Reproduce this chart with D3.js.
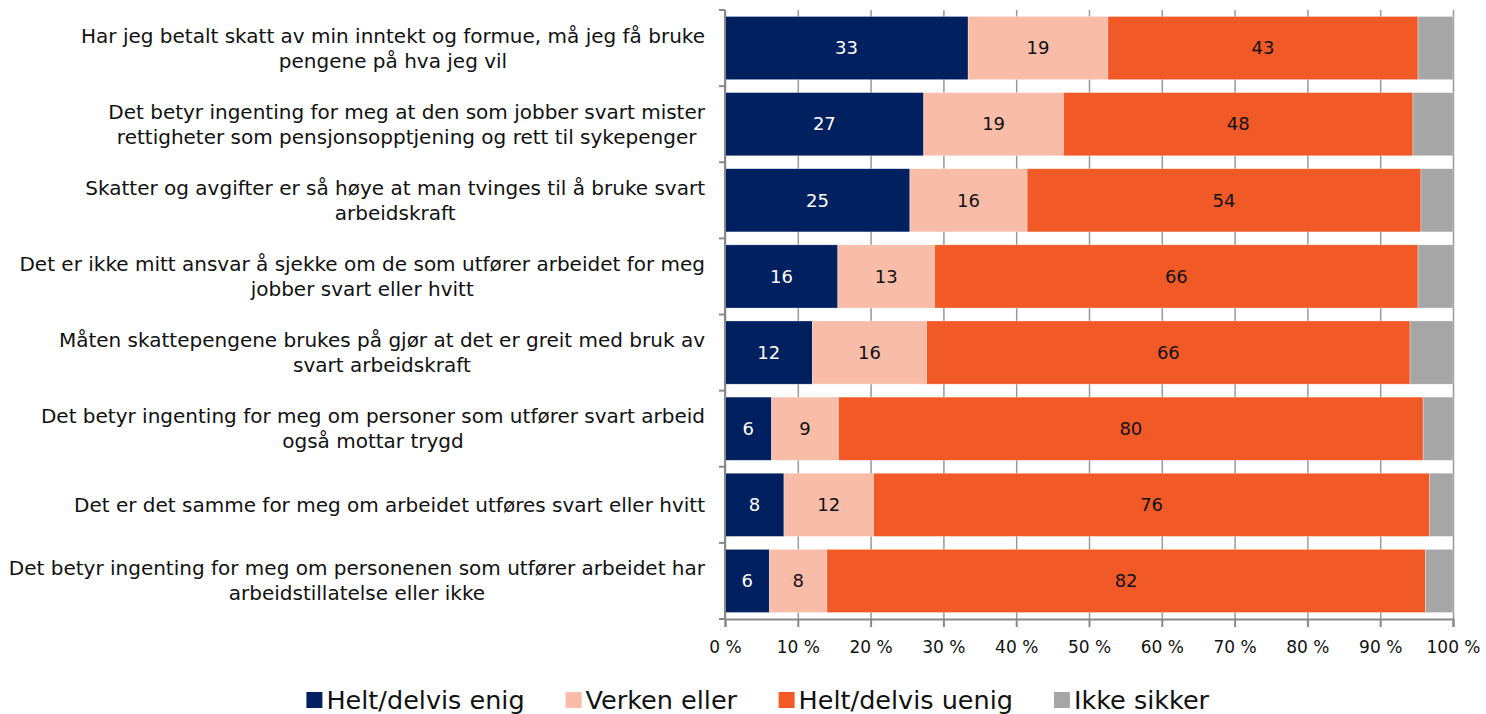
<!DOCTYPE html>
<html>
<head>
<meta charset="utf-8">
<script src="https://cdn.jsdelivr.net/npm/d3@7"></script>
<style>
  body { margin: 0; background: #fff; }
  text { font-family: "DejaVu Sans", sans-serif; }
</style>
</head>
<body>
<svg id="chart" width="1486" height="714"></svg>
<script>
// categories, one entry per bar, lines as wrapped in the original
const questions = [
  ["Har jeg betalt skatt av min inntekt og formue, må jeg få bruke", "pengene på hva jeg vil"],
  ["Det betyr ingenting for meg at den som jobber svart mister", "rettigheter som pensjonsopptjening og rett til sykepenger"],
  ["Skatter og avgifter er så høye at man tvinges til å bruke svart", "arbeidskraft"],
  ["Det er ikke mitt ansvar å sjekke om de som utfører arbeidet for meg", "jobber svart eller hvitt"],
  ["Måten skattepengene brukes på gjør at det er greit med bruk av", "svart arbeidskraft"],
  ["Det betyr ingenting for meg om personer som utfører svart arbeid", "også mottar trygd"],
  ["Det er det samme for meg om arbeidet utføres svart eller hvitt"],
  ["Det betyr ingenting for meg om personenen som utfører arbeidet har", "arbeidstillatelse eller ikke"]
];
const seriesNames = ["Helt/delvis enig", "Verken eller", "Helt/delvis uenig", "Ikke sikker"];
const enig   = [33.4, 27.3, 25.4, 15.5, 12.0, 6.4, 8.1, 6.1];
const verken = [19.2, 19.2, 16.1, 13.3, 15.7, 9.2, 12.3, 7.9];
const uenig  = [42.6, 48.0, 54.1, 66.4, 66.4, 80.3, 76.4, 82.2];
const ikke   = [4.8, 5.5, 4.4, 4.8, 5.9, 4.1, 3.2, 3.8];
const xTicks = [0, 10, 20, 30, 40, 50, 60, 70, 80, 90, 100];

const colors = ["#002060", "#f8bca8", "#f15a26", "#a6a6a6"];
const labelColors = ["#fff", "#111", "#111", null];

const svg = d3.select("#chart");
const mLeft = 725, mRight = 1453, mTop = 10, mBottom = 619;

const rows = questions.map((q, i) => ({
  id: i, lines: q,
  vals: [enig[i], verken[i], uenig[i], ikke[i]]
}));

const x = d3.scaleLinear().domain([0, 100]).range([mLeft, mRight]);
const y = d3.scaleBand().domain(rows.map(d => d.id)).range([mTop, mBottom])
  .paddingInner(0.17).paddingOuter(0.085);

// grid lines
svg.append("g")
  .attr("transform", "translate(0," + mBottom + ")")
  .call(d3.axisBottom(x).tickValues(xTicks).tickSize(-(mBottom - mTop)).tickFormat(""))
  .call(g => g.select(".domain").remove())
  .call(g => g.selectAll("line").attr("stroke", "#999").attr("stroke-width", 1.5));

// stacked bars
rows.forEach(r => {
  let acc = 0;
  r.segs = r.vals.map((v, k) => { const s = { k, v, x0: acc, x1: acc + v }; acc += v; return s; });
});

const rowG = svg.append("g").selectAll("g").data(rows).join("g")
  .attr("transform", d => "translate(0," + y(d.id) + ")");

rowG.selectAll("rect").data(d => d.segs).join("rect")
  .attr("x", s => x(s.x0))
  .attr("width", s => x(s.x1) - x(s.x0))
  .attr("y", 0)
  .attr("height", y.bandwidth())
  .attr("fill", s => colors[s.k])
  .attr("stroke", "rgba(255,255,255,0.5)")
  .attr("stroke-width", 0.6);

rowG.selectAll("text").data(d => d.segs.filter(s => labelColors[s.k])).join("text")
  .attr("x", s => x((s.x0 + s.x1) / 2))
  .attr("y", y.bandwidth() / 2)
  .attr("dy", "0.35em")
  .attr("text-anchor", "middle")
  .attr("font-size", 18)
  .attr("fill", s => labelColors[s.k])
  .text(s => d3.format(".0f")(s.v));

// bottom axis
svg.append("g")
  .attr("transform", "translate(0," + mBottom + ")")
  .call(d3.axisBottom(x).tickValues(xTicks).tickSize(8).tickPadding(14)
    .tickFormat(d => d + " %"))
  .call(g => g.select(".domain").attr("stroke", "#888").attr("stroke-width", 2))
  .call(g => g.selectAll("line").attr("stroke", "#888").attr("stroke-width", 2))
  .call(g => g.selectAll("text").attr("font-size", 17).attr("fill", "#111")
    .attr("font-family", "DejaVu Sans"));

// left axis with boundary ticks
const yAxis = svg.append("g");
yAxis.append("line").attr("x1", mLeft).attr("x2", mLeft).attr("y1", mTop).attr("y2", mBottom)
  .attr("stroke", "#888").attr("stroke-width", 2);
yAxis.selectAll(".bt").data(d3.range(rows.length + 1)).join("line")
  .attr("x1", mLeft - 6).attr("x2", mLeft)
  .attr("y1", i => mTop + i * y.step()).attr("y2", i => mTop + i * y.step())
  .attr("stroke", "#888").attr("stroke-width", 2);

// category labels: block right-aligned, lines centred within
const lineH = 25;
rows.forEach(r => {
  const cy = y(r.id) + y.bandwidth() / 2;
  const t = svg.append("text").attr("font-size", 20).attr("fill", "#111").attr("text-anchor", "middle");
  const spans = r.lines.map((ln, j) => t.append("tspan").text(ln)
    .attr("y", cy + (j - (r.lines.length - 1) / 2) * lineH).attr("dy", "0.35em"));
  const w = d3.max(spans, s => s.node().getComputedTextLength());
  spans.forEach(s => s.attr("x", 705 - w / 2));
});

// legend
const lg = svg.append("g");
const items = lg.selectAll("g").data(seriesNames).join("g");
items.append("rect").attr("width", 16).attr("height", 16).attr("y", -14)
  .attr("fill", (d, i) => colors[i]);
items.append("text").attr("x", 20).attr("y", 0).attr("dy", "0.1em")
  .attr("font-size", 25.5).attr("fill", "#111").text(d => d);
let lx = 0;
const pos = [];
items.each(function () {
  pos.push(lx);
  lx += this.getBBox().width + 41;
});
lx -= 41;
const startX = 758 - lx / 2;
items.attr("transform", (d, i) => "translate(" + (startX + pos[i]) + ",706)");
</script>
</body>
</html>
